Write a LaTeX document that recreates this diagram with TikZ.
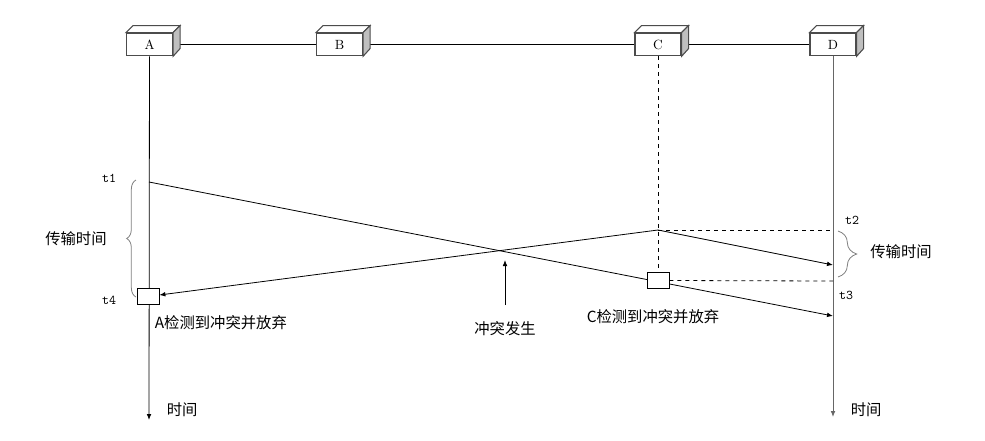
\documentclass[tikz,border=0pt]{standalone}
\usepackage{fontspec}
\newfontfamily\cjk{Noto Sans CJK SC}
\usetikzlibrary{positioning,arrows.meta,decorations.pathreplacing}

\begin{document}
\begin{tikzpicture}[x=0.75pt,y=-0.75pt,line width=0.6pt,>={Latex[length=4.5pt,width=3.5pt]},
        station/.style={draw=black!70,line width=0.8pt,fill=white,minimum width=34.5pt,minimum height=17pt,inner sep=0pt,font=\normalsize},
        probe/.style={draw,fill=white,minimum width=16.5pt,minimum height=12.5pt,inner sep=0pt},
        lbl/.style={font=\cjk\fontsize{11.5}{13}\selectfont},
        tick/.style={font=\ttfamily\normalsize},
        brace/.style={draw=gray,decorate,decoration={brace,amplitude=#1}}]
    \useasboundingbox (0,0) rectangle (985,440);
    % stations on the bus
    \node[station] (A) at (149.5,44.5) {A};
    \node[station] (B) at (339.5,44.5) {B};
    \node[station] (C) at (658,44.5) {C};
    \node[station] (D) at (833,44.5) {D};
    \draw (A) -- (B) -- (C) -- (D);
    \foreach \s in {A,B,C,D} {
        \draw[draw=black!70,line width=0.8pt,fill=white] (\s.north west) -- ++(7,-7) -- ([shift={(7,-7)}]\s.north east) -- (\s.north east) -- cycle;
        \draw[draw=black!70,line width=0.8pt,fill=black!25] (\s.north east) -- ++(7,-7) -- ++(0,23) -- (\s.south east) -- cycle;
    }
    % time axes
    \coordinate (Aend) at (149,420);
    \coordinate (Dend) at (833,417);
    \draw[->] (A) -- (Aend);
    \draw[->,black!60] (D) -- (Dend);
    \node[lbl,anchor=west] (timeA) at (162,410) {时间};
    \node[lbl,anchor=west] (timeD) at (846,410) {时间};
    % frames
    \coordinate (t1) at (149,182);
    \coordinate (t3) at (833,316);
    \coordinate (Csend) at (658,230);
    \coordinate (t2) at (833,230);
    \coordinate (Crecv) at (833,265);
    \coordinate (Cstop) at (833,281);
    \draw[->] (t1) -- (t3);
    \draw[->] (Csend) -- (Crecv);
    \draw[dashed] (Csend) -- (t2);
    \node[probe] (Cbox) at (658,280.5) {};
    \node[probe] (Abox) at (148,296.5) {};
    \draw[dashed] (C) -- (Cbox);
    \draw[dashed] (Cbox.east) -- (Cstop);
    \draw[->] (Csend) -- (Abox);
    % marks
    \node[tick] (lt1) at (109,178) {t1};
    \node[tick] (lt4) at (109,300) {t4};
    \node[tick] (lt2) at (852,220) {t2};
    \node[tick] (lt3) at (846,295) {t3};
    \draw[brace=7pt] (136,297) -- (136,180);
    \draw[brace=14pt] (838,231) -- (838,277);
    \node[lbl] (spanA) at (76,239) {传输时间};
    \node[lbl] (spanD) at (901,252) {传输时间};
    \node[lbl,anchor=west] (stopA) at (150,323) {A检测到冲突并放弃};
    \node[lbl] (stopC) at (653,317) {C检测到冲突并放弃};
    \node[lbl] (hit) at (505,329) {冲突发生};
    \coordinate (cross) at (505,260);
    \draw[->] (hit.north) ++(0,-12) -- (cross);
\end{tikzpicture}
\end{document}
